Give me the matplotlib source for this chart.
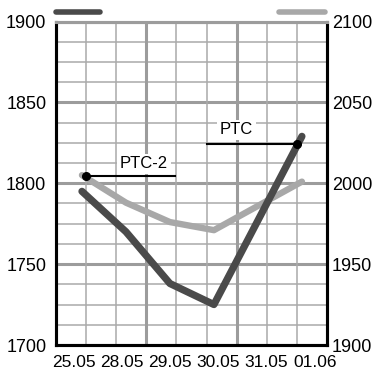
import numpy as np
import matplotlib
matplotlib.use('Agg')
import matplotlib.pyplot as plt
from matplotlib.lines import Line2D

# ---- data ----
dates = ['25.05', '28.05', '29.05', '30.05', '31.05', '01.06']
ptc = [1795, 1770, 1738, 1725, 1777, 1829]      # left axis (dark)
ptc2 = [2005, 1988, 1976, 1971, 1986, 2001]     # right axis (light)
left_ticks = [1700, 1750, 1800, 1850, 1900]
right_ticks = [1900, 1950, 2000, 2050, 2100]
labels = ['PTC', 'PTC-2']

plt.rcParams['font.family'] = ['Liberation Sans', 'DejaVu Sans']

DARK = '#4a4a4a'
LIGHT = '#a8a8a8'
GRID = '#9c9c9c'

fig = plt.figure(figsize=(3.82, 3.83), dpi=100)
ax = fig.add_axes([56 / 382, 38 / 383, 271 / 382, 323.5 / 383])
ax2 = ax.twinx()

x = np.arange(len(dates))
XL = (-0.59, 5.57)
ax.set_xlim(*XL)
ax.set_ylim(left_ticks[0], left_ticks[-1])
ax2.set_ylim(right_ticks[0], right_ticks[-1])

# horizontal grid
ax.set_yticks(left_ticks)
ax.set_yticks(np.arange(left_ticks[0], left_ticks[-1] + 0.1, 12.5), minor=True)
ax.yaxis.grid(True, which='major', color=GRID, lw=2.2)
ax.yaxis.grid(True, which='minor', color='#aaaaaa', lw=1.1)
ax.set_axisbelow(True)

# vertical grid (9 equal divisions, 3rd and 6th heavier)
vg = np.linspace(XL[0], XL[1], 10)
for i, xv in enumerate(vg[1:-1], start=1):
    ax.axvline(xv, color=GRID if i in (3, 6) else '#aaaaaa',
               lw=2.2 if i in (3, 6) else 1.1, zorder=0.6)

# x tick labels
tick_pos = np.linspace(-0.19, 5.29, len(dates))
ax.set_xticks(tick_pos, dates)
ax.tick_params(axis='x', length=0, pad=7, labelsize=12.5)
ax.tick_params(axis='y', which='both', length=0, pad=7, labelsize=13)
ax2.set_yticks(right_ticks)
ax2.tick_params(axis='y', length=0, pad=3.5, labelsize=13)

for a in (ax, ax2):
    for s in ('left', 'right', 'bottom'):
        a.spines[s].set_color('black')
        a.spines[s].set_linewidth(2.2)
    a.spines['top'].set_color(GRID)
    a.spines['top'].set_linewidth(2.2)

# series
ax.plot(x, ptc2, color=LIGHT, lw=4.6, solid_capstyle='round',
        solid_joinstyle='round', transform=ax2.transData, zorder=2)
ax.plot(x, ptc, color=DARK, lw=5.2, solid_capstyle='round',
        solid_joinstyle='round', zorder=3)
ax.set_xlim(*XL)
ax.set_ylim(left_ticks[0], left_ticks[-1])

# annotations
ax.plot([0.092, 2.11], [1804.5, 1804.5], color='black', lw=1.5, zorder=4)
ax.plot([0.092], [1804.5], 'o', color='black', ms=5.5, zorder=5)
ax.text(1.41, 1812, labels[1], ha='center', va='center', fontsize=12,
        bbox=dict(fc='white', ec='none', pad=2), zorder=4)

ax.plot([2.85, 4.89], [1824.3, 1824.3], color='black', lw=1.5, zorder=4)
ax.plot([4.89], [1824.3], 'o', color='black', ms=5.5, zorder=5)
ax.text(3.51, 1833, labels[0], ha='center', va='center', fontsize=12,
        bbox=dict(fc='white', ec='none', pad=2), zorder=4)

# legend marks at the top
fig.add_artist(Line2D([56 / 382, 100 / 382], [371 / 383, 371 / 383],
                      color=DARK, lw=4, solid_capstyle='round'))
fig.add_artist(Line2D([279 / 382, 325 / 382], [371 / 383, 371 / 383],
                      color=LIGHT, lw=4, solid_capstyle='round'))

fig.savefig('out.png', dpi=100)
